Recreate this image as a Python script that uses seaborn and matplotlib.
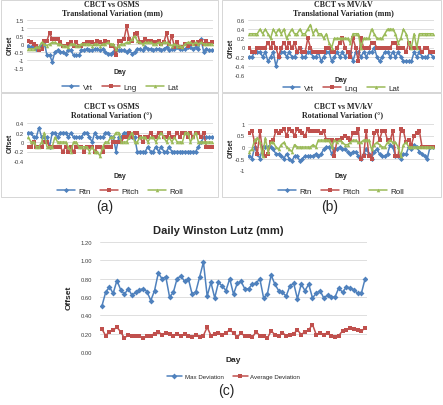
import seaborn as sns
import matplotlib.pyplot as plt
from matplotlib.patches import Rectangle
from matplotlib.ticker import FormatStrFormatter

# ---- data ----
osms_vrt = [-0.1, -0.2, -0.2, -0.3, -0.2, -0.1, 0.1, -0.7, -0.7, -1.1,
            -0.5, -0.4, -0.5, -0.5, -0.6, -0.4, -0.4, -0.7, -0.7, -0.7,
            -0.4, -0.4, -0.3, -0.4, -0.4, -0.3, -0.3, -0.4, -0.3, -0.5,
            -0.6, -0.6, -0.5, -0.4, -0.4, -0.4, -0.4, -0.5, -0.4, -0.6,
            -0.5, -0.3, -0.3, -0.4, -0.2, -0.3, -0.3, -0.4, -0.3, -0.3,
            -0.4, -0.3, -0.2, -0.4, -0.3, -0.3, -0.2, -0.3, -0.3, -0.3,
            -0.2, -0.2, -0.3, -0.2, -0.3, 0.3, -0.5, -0.3, -0.4, -0.4]
osms_lng = [0.2, 0.1, 0.0, -0.1, -0.4, -0.3, 0.2, 0.2, 0.7, 0.3,
            0.3, 0.3, 0.1, -0.1, -0.1, 0.0, 0.1, -0.1, 0.1, -0.1,
            -0.1, 0.0, 0.1, 0.1, 0.1, 0.0, 0.2, 0.1, 0.0, 0.2,
            0.1, -0.1, -0.1, -0.7, 0.2, 0.2, 0.3, 1.1, 0.3, 0.2,
            0.6, 0.7, 0.1, 0.1, 0.3, 0.2, 0.2, 0.1, 0.1, 0.2,
            0.0, 0.1, 0.7, 0.0, 0.5, -0.2, 0.1, -0.2, -0.2, 0.0,
            -0.1, 0.0, 0.1, 0.0, 0.1, 0.2, 0.0, 0.2, 0.0, 0.1]
osms_lat = [-0.3, -0.3, -0.3, -0.2, -0.2, 0.1, 0.0, -0.1, 0.0, 0.1,
            0.1, 0.0, 0.0, -0.1, -0.1, -0.2, 0.0, 0.0, -0.1, -0.1,
            0.0, 0.0, 0.0, 0.0, -0.1, 0.0, 0.0, -0.1, 0.0, 0.0,
            0.1, 0.0, 0.0, -0.3, -0.1, 0.0, 0.0, 0.1, 0.1, 0.3,
            0.5, 0.2, 0.1, 0.0, 0.1, 0.1, 0.1, 0.0, 0.0, 0.1,
            0.0, 0.1, 0.1, 0.0, -0.1, 0.0, -0.1, -0.1, -0.2, 0.0,
            0.1, 0.1, 0.0, 0.1, 0.0, 0.1, 0.0, 0.0, 0.0, 0.0]

osms_rtn = [0.2, 0.2, 0.1, 0.1, 0.3, 0.1, 0.1, 0.1, -0.1, 0.2,
            0.2, 0.1, 0.2, 0.2, 0.2, 0.1, 0.2, 0.1, 0.1, 0.1,
            0.1, 0.2, 0.2, 0.1, 0.0, 0.2, 0.1, 0.1, 0.1, 0.2,
            0.2, 0.1, 0.1, -0.2, 0.1, 0.1, 0.2, 0.2, 0.1, 0.1,
            0.1, -0.2, -0.2, -0.2, -0.2, -0.1, -0.2, -0.2, -0.1, -0.2,
            -0.1, -0.2, -0.2, -0.1, -0.2, -0.2, -0.2, -0.2, -0.2, -0.2,
            -0.2, -0.2, -0.2, -0.2, -0.1, 0.0, 0.1, 0.1, 0.1, 0.1]
osms_pitch = [-0.1, -0.1, 0.0, -0.1, -0.1, -0.1, 0.0, 0.0, -0.1, -0.1,
              -0.1, -0.1, -0.1, -0.2, -0.1, -0.2, -0.1, -0.2, -0.1, -0.1,
              -0.1, -0.2, -0.1, -0.1, -0.1, -0.2, -0.1, -0.1, -0.2, -0.1,
              -0.1, -0.1, 0.0, 0.0, 0.0, 0.0, 0.1, 0.1, 0.2, 0.1,
              0.2, 0.2, 0.1, 0.0, 0.1, 0.1, 0.2, 0.1, 0.1, 0.2,
              0.2, 0.1, 0.1, 0.2, 0.1, 0.1, 0.2, 0.1, 0.2, 0.2,
              0.1, 0.2, 0.1, 0.2, 0.2, 0.1, 0.2, -0.1, -0.1, -0.1]
osms_roll = [0.1, 0.0, 0.0, -0.1, -0.1, 0.0, 0.2, -0.1, -0.1, -0.1,
             0.1, 0.0, 0.0, 0.0, 0.0, -0.1, -0.2, 0.0, 0.0, -0.1,
             -0.1, -0.1, -0.1, -0.2, -0.1, -0.2, -0.2, -0.3, -0.1, 0.0,
             0.0, 0.1, 0.1, 0.2, 0.2, 0.0, 0.0, 0.0, 0.1, 0.2,
             0.0, 0.0, 0.1, 0.1, 0.1, 0.0, 0.1, 0.1, 0.0, 0.1,
             0.2, 0.1, 0.0, 0.1, 0.0, 0.1, 0.0, 0.0, 0.0, 0.2,
             0.2, 0.0, 0.1, 0.2, 0.0, 0.0, 0.0, 0.0, 0.0, 0.0]

mv_vrt = [-0.2, -0.2, -0.1, -0.1, -0.1, -0.2, -0.1, -0.3, -0.2, -0.1,
          -0.4, -0.2, -0.1, -0.1, -0.2, -0.1, -0.2, -0.2, -0.1, 0.0,
          -0.2, -0.2, -0.1, -0.1, -0.2, -0.2, -0.1, -0.3, -0.2, -0.1,
          -0.1, -0.3, -0.2, -0.1, -0.2, -0.1, -0.2, -0.1, -0.1, -0.3,
          -0.1, -0.1, -0.2, -0.1, -0.2, -0.1, -0.1, 0.0, -0.2, -0.3,
          -0.2, -0.1, -0.1, -0.2, -0.1, -0.2, -0.1, -0.2, -0.3, -0.3,
          -0.3, -0.3, -0.1, -0.2, -0.1, -0.2, -0.2, -0.2, -0.1, -0.2]
mv_lng = [0.0, -0.1, -0.1, 0.0, 0.0, 0.0, 0.0, 0.1, 0.0, 0.1,
          0.0, -0.2, 0.0, 0.1, 0.0, 0.1, 0.0, 0.1, -0.1, 0.0,
          -0.1, -0.1, 0.2, 0.0, -0.1, -0.1, -0.1, -0.1, -0.1, 0.0,
          0.0, -0.1, -0.1, 0.0, 0.1, 0.2, 0.0, -0.1, -0.2, 0.2,
          0.0, -0.3, 0.2, 0.0, 0.0, 0.0, 0.1, 0.1, 0.0, 0.0,
          0.0, 0.0, 0.0, 0.0, 0.1, 0.1, 0.0, 0.0, 0.0, -0.1,
          0.1, 0.0, 0.0, 0.0, 0.0, -0.1, 0.0, 0.0, -0.1, -0.1]
mv_lat = [0.3, 0.3, 0.3, 0.3, 0.4, 0.3, 0.4, 0.3, 0.2, 0.4,
          0.3, 0.4, 0.3, 0.4, 0.2, 0.3, 0.4, 0.3, 0.3, 0.4,
          0.3, 0.3, 0.4, 0.5, 0.3, 0.4, 0.3, 0.3, 0.2, 0.3,
          0.1, 0.0, 0.2, 0.2, 0.2, 0.2, 0.2, 0.2, 0.1, 0.3,
          0.3, 0.3, 0.0, 0.2, 0.2, 0.2, 0.4, 0.3, 0.2, 0.2,
          0.2, 0.3, 0.4, 0.4, 0.4, 0.3, 0.1, 0.2, 0.4, 0.3,
          0.1, 0.0, 0.3, 0.0, 0.3, 0.3, 0.3, 0.3, 0.3, 0.3]

mv_rtn = [-0.4, -0.5, 0.0, -0.3, -0.5, 0.0, 0.0, 0.0, 0.0, -0.1,
          -0.3, -0.3, -0.4, -0.5, -0.3, -0.5, -0.6, -0.4, -0.4, -0.6,
          -0.5, -0.4, -0.4, -0.4, -0.4, -0.3, -0.4, -0.3, -0.1, 0.0,
          0.0, -0.3, -0.1, -0.1, 0.0, -0.1, -0.1, -0.2, -0.3, -0.2,
          -0.2, -0.4, -0.5, -0.3, -0.1, -0.3, -0.5, -0.2, -0.1, -0.3,
          -0.4, -0.4, -0.3, 0.1, 0.0, -0.4, -0.4, -0.5, -0.3, -0.3,
          0.0, -0.1, 0.1, 0.0, -0.2, -0.3, -0.4, -0.5, 0.0, 0.0]
mv_pitch = [0.6, 0.7, 0.2, -0.3, 0.7, -0.2, -0.4, -0.3, 0.2, 0.3,
            0.7, 0.6, 0.7, 0.8, 0.5, 0.8, 0.7, 0.5, 0.8, 0.7,
            0.6, 0.5, 0.8, 0.7, 0.7, 0.7, 0.7, 0.6, 0.7, 0.3,
            0.3, 0.3, -0.4, 0.3, 0.3, 0.4, 0.5, 0.4, 0.3, 0.6,
            0.6, 0.8, -0.5, -0.4, 0.7, -0.4, -0.5, 0.6, 0.7, 0.3,
            0.7, 0.7, 0.3, 0.3, 0.7, -0.4, -0.4, 0.8, 0.7, 0.2,
            0.3, 0.1, 0.5, 0.6, 0.7, 0.0, 0.0, 0.0, 0.0, 0.0]
mv_roll = [-0.2, -0.1, 0.3, 0.4, 0.2, -0.4, 0.4, -0.2, 0.2, 0.2,
           0.0, -0.1, 0.1, 0.2, 0.0, -0.1, -0.2, 0.1, 0.0, 0.0,
           0.0, 0.0, 0.0, 0.0, 0.1, 0.0, 0.3, 0.3, 0.3, 0.3,
           0.3, 0.0, 0.3, 0.2, 0.3, 0.2, 0.1, 0.1, 0.2, 0.3,
           0.3, 0.2, 0.2, 0.3, 0.3, 0.3, -0.1, 0.1, 0.2, 0.1,
           0.0, 0.0, 0.2, 0.3, 0.2, 0.2, 0.0, -0.4, 0.1, 0.2,
           0.0, 0.0, 0.0, 0.0, 0.0, 0.0, 0.0, 0.0, 0.0, 0.0]

wl_max = [0.50, 0.65, 0.71, 0.64, 0.78, 0.68, 0.63, 0.69, 0.62, 0.65,
          0.68, 0.69, 0.66, 0.56, 0.67, 0.86, 0.80, 0.82, 0.60, 0.65,
          0.80, 0.83, 0.77, 0.80, 0.63, 0.66, 0.82, 0.98, 0.61, 0.76,
          0.59, 0.76, 0.72, 0.67, 0.80, 0.63, 0.75, 0.77, 0.69, 0.69,
          0.74, 0.75, 0.80, 0.59, 0.63, 0.84, 0.74, 0.67, 0.65, 0.61,
          0.72, 0.75, 0.58, 0.74, 0.67, 0.74, 0.59, 0.64, 0.67, 0.59,
          0.62, 0.60, 0.60, 0.70, 0.65, 0.71, 0.70, 0.68, 0.64, 0.64,
          0.80]
wl_avg = [0.25, 0.18, 0.22, 0.24, 0.27, 0.22, 0.15, 0.19, 0.18, 0.17,
          0.18, 0.15, 0.17, 0.18, 0.20, 0.22, 0.19, 0.21, 0.20, 0.18,
          0.20, 0.17, 0.20, 0.18, 0.16, 0.19, 0.16, 0.18, 0.27, 0.18,
          0.20, 0.21, 0.19, 0.21, 0.24, 0.21, 0.16, 0.21, 0.17, 0.18,
          0.16, 0.22, 0.18, 0.17, 0.15, 0.23, 0.19, 0.17, 0.21, 0.18,
          0.19, 0.20, 0.24, 0.19, 0.22, 0.24, 0.30, 0.19, 0.21, 0.19,
          0.21, 0.17, 0.16, 0.18, 0.23, 0.24, 0.26, 0.25, 0.24, 0.23,
          0.26]

BLUE, RED, GREEN = '#4F81BD', '#C0504D', '#9BBB59'
MARKERS = ['D', 's', '^']
COLORS = [BLUE, RED, GREEN]

sns.set_style("white")
plt.rcParams['font.family'] = ['Liberation Sans', 'DejaVu Sans']

W, H = 443, 406
fig = plt.figure(figsize=(W / 100, H / 100), dpi=100)


def box(x0, y0, x1, y1):
    # pixel coords (origin top-left) -> figure fraction
    return [x0 / W, 1 - y1 / H, (x1 - x0) / W, (y1 - y0) / H]


def panel(rect, series, names, ticks, title, tx, ty, day_y, leg_y,
          ms=2.6, tick_fs=4.2, leg_fs=5.8, ylab_x=-0.09):
    ax = fig.add_axes(box(*rect))
    for vals, name, c, m in zip(series, names, COLORS, MARKERS):
        days = list(range(1, len(vals) + 1))
        sns.lineplot(x=days, y=vals, ax=ax, color=c, marker=m, markersize=ms,
                     markeredgewidth=0, linewidth=1.1, label=name)
    ax.set_ylim(ticks[0], ticks[-1])
    ax.set_yticks(ticks)
    ax.set_yticklabels(['%g' % t for t in ticks])
    ax.set_xlim(0.5, len(series[0]) + 0.5)
    ax.set_xticks([])
    ax.grid(axis='y', color='#d9d9d9', linewidth=0.6)
    for s in ax.spines.values():
        s.set_visible(False)
    ax.tick_params(axis='y', labelsize=tick_fs, length=0, pad=2, colors='#404040')
    ax.set_xlabel('')
    ax.set_ylabel('')
    ax.text(ylab_x, 0.5, 'Offset', transform=ax.transAxes, rotation=90,
            ha='center', va='center', fontsize=tick_fs + 0.6, fontweight='bold')
    ax.text(0.5, day_y, 'Day', transform=ax.transAxes, ha='center', va='center',
            fontsize=tick_fs + 0.8, fontweight='bold')
    ax.legend(loc='center', bbox_to_anchor=(0.5, leg_y), ncol=len(names),
              frameon=False, fontsize=leg_fs, handlelength=2.2, columnspacing=1.2,
              handletextpad=0.4, borderaxespad=0)
    fig.text(tx / W, 1 - ty / H, title, ha='center', va='center',
             fontsize=5.8, fontweight='bold', family='Liberation Serif',
             linespacing=1.1)
    return ax


trans = ['Vrt', 'Lng', 'Lat']
rot = ['Rtn', 'Pitch', 'Roll']

panel((27, 21, 213, 69), [osms_vrt, osms_lng, osms_lat], trans,
      [-1.5, -1, -0.5, 0, 0.5, 1, 1.5],
      'CBCT vs OSMS\nTranslational Variation (mm)', 112, 9, -0.08, -0.40)
panel((27, 124, 213, 162), [osms_rtn, osms_pitch, osms_roll], rot,
      [-0.4, -0.2, 0, 0.2, 0.4],
      'CBCT vs OSMS\nRotational Variation (°)', 112, 111, -0.37, -0.79)
panel((248, 21, 434, 76), [mv_vrt, mv_lng, mv_lat], trans,
      [-0.6, -0.4, -0.2, 0, 0.2, 0.4, 0.6],
      'CBCT vs MV/kV\nTranslational Variation (mm)', 343, 9, -0.09, -0.24)
panel((248, 125, 434, 171), [mv_rtn, mv_pitch, mv_roll], rot,
      [-1, -0.5, 0, 0.5, 1],
      'CBCT vs MV/kV\nRotational Variation (°)', 343, 111, -0.11, -0.46)

axc = fig.add_axes(box(100, 243, 367, 353))
for vals, name, c, m in [(wl_max, 'Max Deviation', BLUE, 'D'),
                         (wl_avg, 'Average Deviation', RED, 's')]:
    days = list(range(1, len(vals) + 1))
    sns.lineplot(x=days, y=vals, ax=axc, color=c, marker=m, markersize=3.0,
                 markeredgewidth=0, linewidth=1.1, label=name)
axc.set_ylim(0, 1.2)
axc.set_yticks([0, 0.2, 0.4, 0.6, 0.8, 1.0, 1.2])
axc.yaxis.set_major_formatter(FormatStrFormatter('%.2f'))
axc.set_xlim(0.5, len(wl_max) + 0.5)
axc.set_xticks([])
axc.grid(axis='y', color='#d9d9d9', linewidth=0.6)
for s in axc.spines.values():
    s.set_visible(False)
axc.tick_params(axis='y', labelsize=4.2, length=0, pad=6, colors='#404040')
axc.text(-0.115, 0.5, 'Offset', transform=axc.transAxes, rotation=90,
         ha='center', va='center', fontsize=6, fontweight='bold')
axc.text(0.5, -0.065, 'Day', transform=axc.transAxes, ha='center', va='center',
         fontsize=6, fontweight='bold')
axc.legend(loc='center', bbox_to_anchor=(0.5, -0.22), ncol=2, frameon=False,
           fontsize=4.4, handlelength=2.5, columnspacing=1.5, handletextpad=0.4,
           borderaxespad=0)
fig.text(218 / W, 1 - 231 / H, 'Daily Winston Lutz (mm)', ha='center',
         va='center', fontsize=8, fontweight='bold')

# panel frames
for x0, y0, x1, y1 in [(1, 1, 218, 93), (1, 94, 218, 198),
                       (222, 1, 441, 93), (222, 94, 441, 198)]:
    fig.patches.append(Rectangle((x0 / W, 1 - y1 / H), (x1 - x0) / W, (y1 - y0) / H,
                                 transform=fig.transFigure, fill=False,
                                 edgecolor='#d0d0d0', linewidth=0.6))

for lab, x, y in [('(a)', 105, 207), ('(b)', 330, 207), ('(c)', 226, 391)]:
    fig.text(x / W, 1 - y / H, lab, ha='center', va='center', fontsize=10)

fig.savefig('out.png', dpi=100)
